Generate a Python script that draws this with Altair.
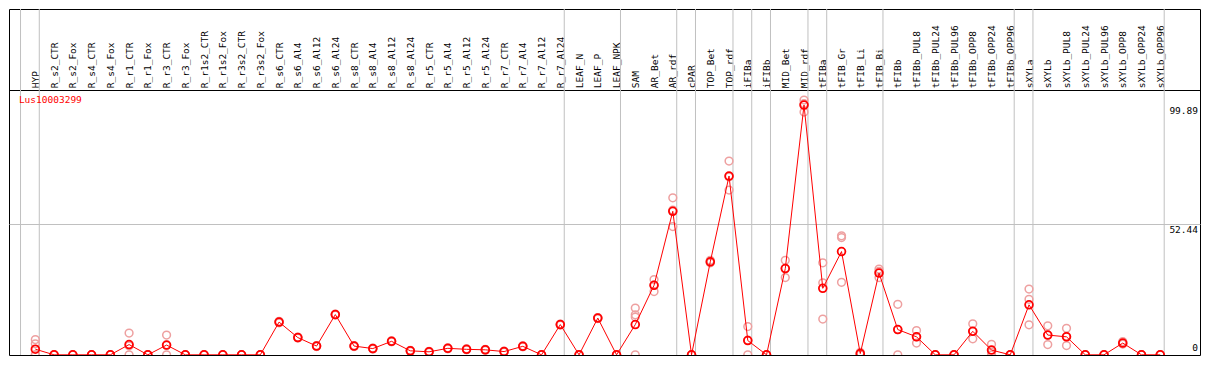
import altair as alt
import pandas as pd

categories = [
    "HYP", "R_s2_CTR", "R_s2_Fox", "R_s4_CTR", "R_s4_Fox", "R_r1_CTR", "R_r1_Fox",
    "R_r3_CTR", "R_r3_Fox", "R_r1s2_CTR", "R_r1s2_Fox", "R_r3s2_CTR", "R_r3s2_Fox",
    "R_s6_CTR", "R_s6_Al4", "R_s6_Al12", "R_s6_Al24", "R_s8_CTR", "R_s8_Al4",
    "R_s8_Al12", "R_s8_Al24", "R_r5_CTR", "R_r5_Al4", "R_r5_Al12", "R_r5_Al24",
    "R_r7_CTR", "R_r7_Al4", "R_r7_Al12", "R_r7_Al24", "LEAF_N", "LEAF_P", "LEAF_NPK",
    "SAM", "AR_Bet", "AR_rdf", "cPAR", "TOP_Bet", "TOP_rdf", "iFIBa", "iFIBb",
    "MID_Bet", "MID_rdf", "tFIBa", "tFIB_Gr", "tFIB_Li", "tFIB_Bi", "tFIBb",
    "tFIBb_PUL8", "tFIBb_PUL24", "tFIBb_PUL96", "tFIBb_OPP8", "tFIBb_OPP24",
    "tFIBb_OPP96", "sXYLa", "sXYLb", "sXYLb_PUL8", "sXYLb_PUL24", "sXYLb_PUL96",
    "sXYLb_OPP8", "sXYLb_OPP24", "sXYLb_OPP96",
]

means = [
    2.25, 0, 0, 0, 0, 4.1, 0,
    3.9, 0, 0, 0, 0, 0,
    13.1, 6.9, 3.5, 16.1, 3.5, 2.5,
    5.4, 1.6, 1.2, 2.6, 2.2, 2.0,
    1.3, 3.4, 0, 12.1, 0, 14.7, 0,
    12.1, 27.8, 57.4, 0, 37.2, 71.5, 5.7, 0,
    34.5, 99.89, 26.6, 41.3, 0.5, 32.7, 10.1,
    7.2, 0, 0, 9.4, 1.9,
    0, 20.0, 7.9, 7.2, 0, 0,
    4.7, 0, 0,
]

replicates = [
    [6.1, 4.4, 0, 0], [0, 0, 0], [0, 0, 0], [0, 0, 0], [0, 0, 0], [8.7, 3.6, 0], [0, 0, 0],
    [7.9, 3.8, 0], [0, 0, 0], [0, 0, 0], [0, 0, 0], [0, 0, 0], [0, 0, 0],
    [13.4, 13.1, 12.8], [7.1, 6.9, 6.7], [3.7, 3.5, 3.3], [16.3, 16.1, 15.9], [3.7, 3.5, 3.3], [2.7, 2.5, 2.3],
    [5.6, 5.4, 5.2], [1.8, 1.6, 1.4], [1.4, 1.2, 1.0], [2.8, 2.6, 2.4], [2.4, 2.2, 2.0], [2.2, 2.0, 1.8],
    [1.5, 1.3, 1.1], [3.6, 3.4, 3.2], [0, 0, 0], [12.3, 12.1, 11.9], [0, 0, 0], [14.9, 14.7, 14.5], [0, 0, 0],
    [18.7, 16.0, 15.1, 0], [30.1, 27.9, 25.3], [62.8, 57.9, 51.3], [0, 0, 0], [37.8, 36.8, 37.0], [77.5, 71.2, 65.9], [11.3, 5.9, 0], [0, 0, 0],
    [37.8, 34.6, 30.9], [101.9, 100.5, 97.1], [36.8, 28.8, 14.3], [47.6, 46.9, 29.0], [1.0, 0.5, 0], [34.3, 33.4, 30.9], [20.2, 10.1, 0],
    [9.7, 7.2, 4.7], [0, 0, 0], [0, 0, 0], [12.4, 9.4, 6.4], [4.2, 1.0, 0],
    [0, 0, 0], [26.3, 22.2, 12.0], [11.6, 7.9, 4.1], [10.6, 7.4, 3.7], [0, 0, 0], [0, 0, 0],
    [5.3, 4.5, 4.3], [0, 0, 0], [0, 0, 0],
]

# group separators: a gray line right after these category indices
group_ends = [-1, 0, 28, 31, 34, 35, 37, 38, 39, 41, 42, 45, 52, 53, 60]
tick_values = [0, 52.44, 99.89]
title_text = "Lus10003299"

W, H = 1191, 346
FONT = "DejaVu Sans Mono"
RED = "#ff0000"
PINK = "#eea0a0"
GRID = "#c0c0c0"

mean_df = pd.DataFrame({"x": list(range(len(categories))), "cat": categories, "v": means})
rep_df = pd.DataFrame(
    [{"x": i, "v": r} for i, reps in enumerate(replicates) for r in reps]
)
grid_df = pd.DataFrame({"x": [g + 0.21 for g in group_ends]})

xscale = alt.Scale(domain=[-1.405, 62.12], nice=False, zero=False)
yscale = alt.Scale(domain=[-0.07, 138.3], nice=False, zero=False)

label_expr = "[" + ",".join("'%s'" % c for c in categories) + "][datum.value]"
xaxis = alt.Axis(
    orient="top", offset=-81, values=list(range(len(categories))),
    labelExpr=label_expr, labelAngle=270, labelAlign="left", labelBaseline="middle",
    labelPadding=2.3, labelFont=FONT, labelFontSize=9.5, labelColor="black",
    labelOverlap=False, labelFlush=False, ticks=False, domain=True,
    domainColor="black", domainWidth=1, grid=False, title=None,
)
yaxis = alt.Axis(
    orient="right", values=[tick_values[1]], grid=True, gridColor=GRID, gridWidth=1,
    labels=False, ticks=False, domain=False, title=None,
)

X = alt.X("x:Q", scale=xscale, axis=xaxis)
Y = alt.Y("v:Q", scale=yscale, axis=yaxis)

grid = alt.Chart(grid_df).mark_rule(color=GRID, strokeWidth=1).encode(x=X)

reps = alt.Chart(rep_df).mark_point(
    shape="circle", filled=False, color=PINK, strokeWidth=1.5, size=60, opacity=1, clip=True
).encode(x=X, y=Y)

line = alt.Chart(mean_df).mark_line(color=RED, strokeWidth=1, clip=True).encode(x=X, y=Y)

pts = alt.Chart(mean_df).mark_point(
    shape="circle", filled=False, color=RED, strokeWidth=1.8, size=60, opacity=1, clip=True
).encode(x=X, y=Y)

lab_df = pd.DataFrame({"v": tick_values, "t": ["%g" % v for v in tick_values]})
ylab_top = alt.Chart(lab_df).transform_filter("datum.v > 0").mark_text(
    align="right", baseline="top", font=FONT, fontSize=9.5, color="black", dy=1
).encode(x=alt.value(W - 2), y=Y, text="t:N")
ylab_zero = alt.Chart(lab_df).transform_filter("datum.v == 0").mark_text(
    align="right", baseline="bottom", font=FONT, fontSize=9.5, color="black", dy=-2
).encode(x=alt.value(W - 2), y=Y, text="t:N")

title = alt.Chart(pd.DataFrame({"t": [title_text]})).mark_text(
    align="left", baseline="middle", font=FONT, fontSize=9.5, color=RED
).encode(x=alt.value(9.9), y=alt.value(91), text="t:N")

chart = alt.layer(grid, reps, line, pts, ylab_top, ylab_zero, title).properties(
    width=W, height=H,
    autosize=alt.AutoSizeParams(type="none"),
    padding={"left": 1, "top": 1, "right": 1, "bottom": 1},
    background="white",
).configure_view(stroke="black", strokeWidth=1)

chart.save("out.html", embed_options={"renderer": "svg", "actions": False})
